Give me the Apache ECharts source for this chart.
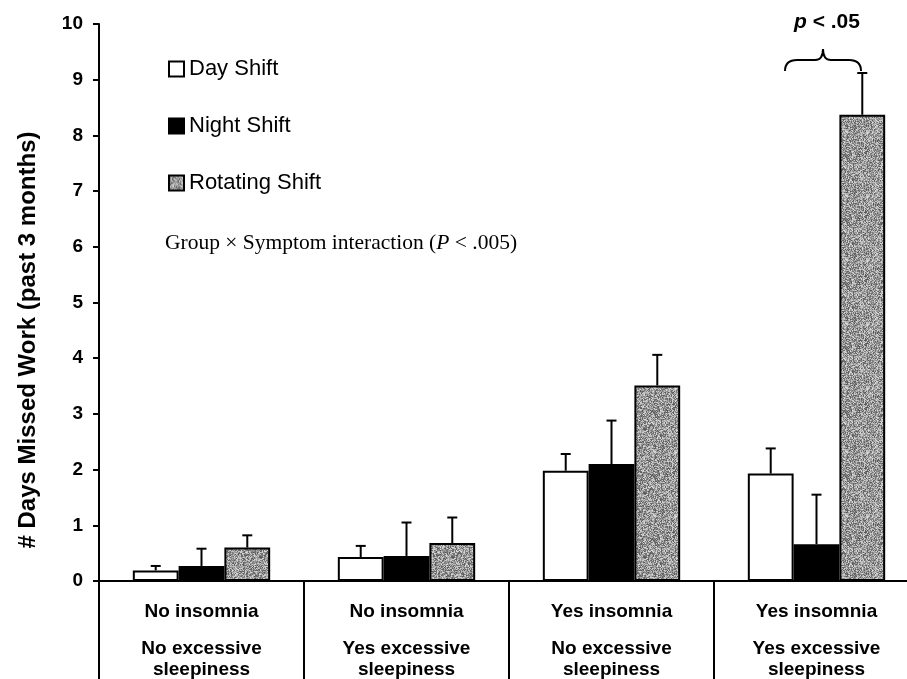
<!DOCTYPE html>
<html>
<head>
<meta charset="utf-8">
<script src="https://cdn.jsdelivr.net/npm/echarts@6/dist/echarts.min.js"></script>
<style>
  html, body { margin: 0; padding: 0; background: #fff; overflow: hidden; }
  /* wider than the window: the category axis runs off the right edge */
  #chart { width: 920px; height: 679px; }
</style>
</head>
<body>
<div id="chart"></div>
<script>
// categories (two-line condition labels)
var insomnia = ['No insomnia', 'No insomnia', 'Yes insomnia', 'Yes insomnia'];
var sleepiness = ['No excessive\nsleepiness', 'Yes excessive\nsleepiness', 'No excessive\nsleepiness', 'Yes excessive\nsleepiness'];

// mean days missed
var dayShift = [0.19, 0.43, 1.98, 1.93];
var nightShift = [0.27, 0.45, 2.10, 0.66];
var rotatingShift = [0.60, 0.68, 3.51, 8.37];

// upper error bar lengths
var dayErr = [0.08, 0.20, 0.30, 0.45];
var nightErr = [0.31, 0.60, 0.78, 0.89];
var rotatingErr = [0.22, 0.46, 0.55, 0.75];

var yTicks = [0, 1, 2, 3, 4, 5, 6, 7, 8, 9, 10];

var categories = insomnia.map(function (a, i) { return a + '\n' + sleepiness[i]; });

// stippled grey fill like the scanned original
function speckle () {
  var size = 64;
  var c = document.createElement('canvas');
  c.width = c.height = size;
  var ctx = c.getContext('2d');
  var img = ctx.createImageData(size, size);
  var s = 20231;
  for (var i = 0; i < size * size; i++) {
    s = (s * 1103515245 + 12345) & 0x7fffffff;
    var v = 85 + ((s >> 16) % 135);
    img.data[i * 4] = v;
    img.data[i * 4 + 1] = v;
    img.data[i * 4 + 2] = v;
    img.data[i * 4 + 3] = 255;
  }
  ctx.putImageData(img, 0, 0);
  return {image: c, repeat: 'repeat'};
}
var grey = speckle();

var GAP = 0.33;

function errorSeries (name, means, errs, idx) {
  return {
    name: name + ' err',
    type: 'custom',
    z: 5,
    silent: true,
    data: means.map(function (m, i) { return [i, m, m + errs[i]]; }),
    encode: {x: 0, y: [1, 2]},
    renderItem: function (params, api) {
      var base = api.coord([api.value(0), api.value(1)]);
      var top = api.coord([api.value(0), api.value(2)]);
      var band = api.size([1, 0])[0];
      var bw = band * (1 - GAP) / 3;
      var x = base[0] + (idx - 1) * bw;
      var st = {stroke: '#000', lineWidth: 2};
      return {
        type: 'group',
        children: [
          {type: 'line', shape: {x1: x, y1: base[1], x2: x, y2: top[1]}, style: st},
          {type: 'line', shape: {x1: x - 5, y1: top[1], x2: x + 5, y2: top[1]}, style: st}
        ]
      };
    }
  };
}

// curly brace over the last group
var braceStyle = {fill: null, stroke: '#000', lineWidth: 2};
var brace = [
  {type: 'bezierCurve', shape: {x1: 785, y1: 71, x2: 797, y2: 60, cpx1: 785, cpy1: 60}, style: braceStyle},
  {type: 'line', shape: {x1: 797, y1: 60, x2: 815, y2: 60}, style: braceStyle},
  {type: 'bezierCurve', shape: {x1: 815, y1: 60, x2: 823, y2: 49, cpx1: 823, cpy1: 60}, style: braceStyle},
  {type: 'bezierCurve', shape: {x1: 823, y1: 49, x2: 831, y2: 60, cpx1: 823, cpy1: 60}, style: braceStyle},
  {type: 'line', shape: {x1: 831, y1: 60, x2: 849, y2: 60}, style: braceStyle},
  {type: 'bezierCurve', shape: {x1: 849, y1: 60, x2: 861, y2: 71, cpx1: 861, cpy1: 60}, style: braceStyle}
];

var chart = echarts.init(document.getElementById('chart'));

var option = {
  animation: false,
  textStyle: {fontFamily: 'Liberation Sans, Arial, sans-serif'},
  grid: {left: 99, top: 24, right: 1, bottom: 98, containLabel: false},
  legend: {
    data: ['Day Shift', 'Night Shift', 'Rotating Shift'],
    orient: 'vertical',
    left: 163,
    top: 53,
    icon: 'rect',
    itemWidth: 15,
    itemHeight: 15,
    itemGap: 35,
    textStyle: {fontSize: 22, color: '#000', fontFamily: 'Liberation Sans, Arial, sans-serif'}
  },
  xAxis: {
    type: 'category',
    data: categories,
    axisLine: {lineStyle: {color: '#000', width: 2}},
    axisTick: {show: true, interval: 0, length: 100, lineStyle: {color: '#000', width: 2}},
    axisLabel: {
      interval: 0,
      margin: 4,
      formatter: function (v, i) {
        return '{a|' + insomnia[i] + '}\n{b|' + sleepiness[i].split('\n').join('}\n{b|') + '}';
      },
      rich: {
        a: {fontSize: 19, fontWeight: 'bold', color: '#000', lineHeight: 53},
        b: {fontSize: 19, fontWeight: 'bold', color: '#000', lineHeight: 21}
      }
    }
  },
  yAxis: {
    type: 'value',
    min: 0,
    max: 10,
    interval: 1,
    splitLine: {show: false},
    axisLine: {show: true, lineStyle: {color: '#000', width: 2}},
    axisTick: {show: true, length: 6, lineStyle: {color: '#000', width: 2}},
    axisLabel: {
      fontSize: 19,
      fontWeight: 'bold',
      color: '#000',
      margin: 16,
      formatter: function (v) { return yTicks.indexOf(v) >= 0 ? String(v) : ''; }
    }
  },
  series: [
    {
      name: 'Day Shift', type: 'bar', data: dayShift,
      barGap: '0%', barCategoryGap: (GAP * 100) + '%',
      itemStyle: {color: '#fff', borderColor: '#000', borderWidth: 2}
    },
    {
      name: 'Night Shift', type: 'bar', data: nightShift,
      itemStyle: {color: '#000', borderColor: '#000', borderWidth: 2}
    },
    {
      name: 'Rotating Shift', type: 'bar', data: rotatingShift,
      itemStyle: {color: grey, borderColor: '#000', borderWidth: 2}
    },
    errorSeries('Day Shift', dayShift, dayErr, 0),
    errorSeries('Night Shift', nightShift, nightErr, 1),
    errorSeries('Rotating Shift', rotatingShift, rotatingErr, 2)
  ],
  graphic: [
    {
      type: 'text',
      x: 28, y: 340,
      rotation: Math.PI / 2,
      style: {
        text: '# Days Missed Work (past 3 months)',
        font: 'bold 24px Liberation Sans, Arial, sans-serif',
        fill: '#000',
        align: 'center',
        verticalAlign: 'middle'
      }
    },
    {
      type: 'text',
      x: 165, y: 243,
      style: {
        text: '{n|Group × Symptom interaction (}{i|P}{n| < .005)}',
        verticalAlign: 'middle',
        rich: {
          n: {fontFamily: 'Liberation Serif, Times New Roman, serif', fontSize: 21.5, fill: '#000'},
          i: {fontFamily: 'Liberation Serif, Times New Roman, serif', fontSize: 21.5, fontStyle: 'italic', fill: '#000'}
        }
      }
    },
    {
      type: 'text',
      x: 827, y: 22,
      style: {
        text: '{i|p}{n| < .05}',
        align: 'center',
        verticalAlign: 'middle',
        rich: {
          n: {fontSize: 21, fontWeight: 'bold', fill: '#000', fontFamily: 'Liberation Sans, Arial, sans-serif'},
          i: {fontSize: 21, fontWeight: 'bold', fontStyle: 'italic', fill: '#000', fontFamily: 'Liberation Sans, Arial, sans-serif'}
        }
      }
    }
  ].concat(brace)
};

chart.setOption(option);
</script>
</body>
</html>
